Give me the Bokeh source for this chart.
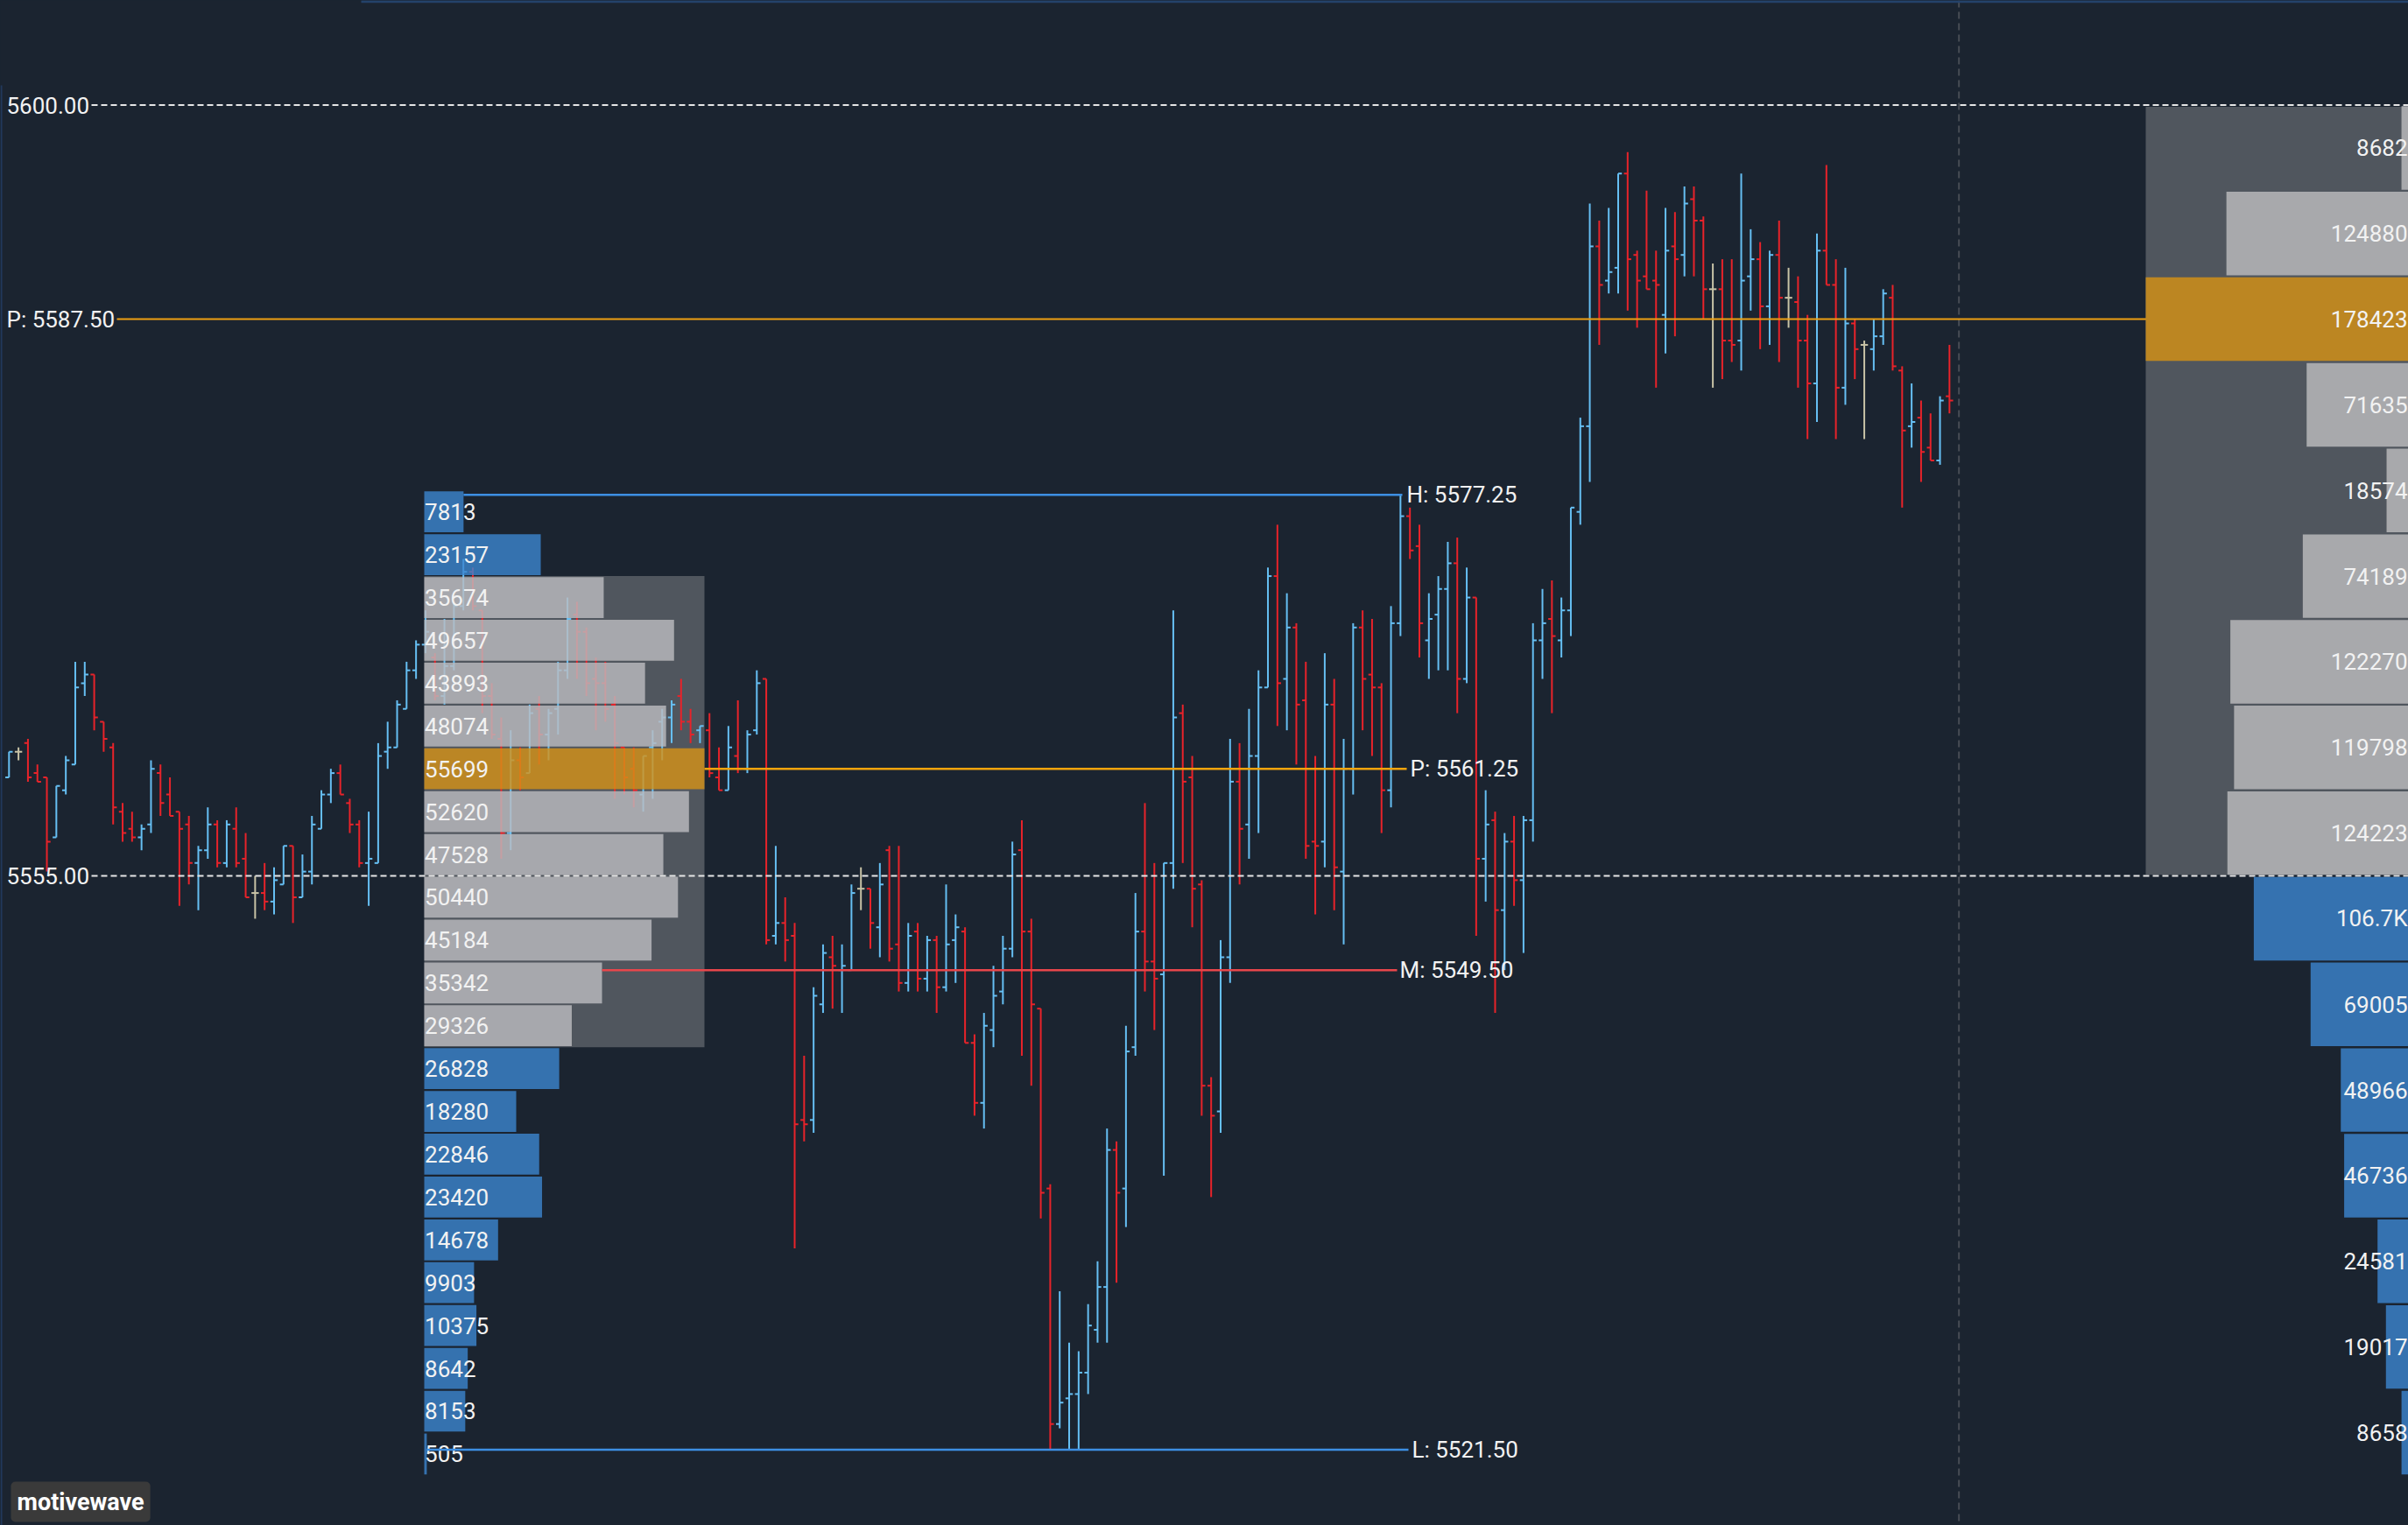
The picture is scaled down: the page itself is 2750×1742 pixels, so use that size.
from bokeh.plotting import figure
from bokeh.models import Range1d, Span, Label, ColumnDataSource
from bokeh.embed import file_html
from bokeh.resources import INLINE
from bokeh.core.properties import value

# ---------------- data ----------------
opens = [5560.75, 5562.25, 5562.75, 5561.0, 5560.75, 5557.25, 5560.0, 5561.5, 5566.25, 5566.75,
         5564.0, 5562.5, 5558.75, 5557.75, 5557.25, 5558.0, 5561.0, 5559.75, 5558.75, 5558.0,
         5555.75, 5556.5, 5558.0, 5555.75, 5557.75, 5556.0, 5554.0, 5554.0, 5553.5, 5554.5,
         5556.75, 5553.75, 5555.25, 5557.75, 5559.75, 5561.0, 5559.25, 5558.0, 5555.75, 5555.75,
         5562.25, 5562.5, 5564.75, 5567.0, 5568.5, 5567.75, 5565.5, 5567.25, 5570.75, 5572.75,
         5570.5, 5565.5, 5563.0, 5557.5, 5561.75, 5561.0, 5564.75, 5563.25, 5564.75, 5567.0,
         5570.25, 5569.25, 5566.5, 5566.25, 5565.0, 5562.5, 5561.25, 5559.75, 5562.5, 5564.0,
         5564.25, 5565.5, 5564.0, 5563.5, 5563.5, 5560.75, 5560.0, 5562.0, 5561.25, 5563.5,
         5566.5, 5551.5, 5552.25, 5551.5, 5540.75, 5540.75, 5547.5, 5550.25, 5549.5, 5549.5,
         5554.25, 5554.25, 5552.0, 5556.5, 5551.0, 5548.75, 5551.75, 5549.0, 5551.25, 5548.5,
         5551.25, 5551.75, 5545.25, 5541.75, 5546.0, 5548.25, 5550.75, 5556.5, 5551.75, 5547.25,
         5536.75, 5523.0, 5524.5, 5524.75, 5526.0, 5528.5, 5531.0, 5539.0, 5536.75, 5545.0,
         5551.75, 5550.0, 5549.25, 5555.75, 5564.5, 5560.75, 5554.5, 5542.75, 5541.25, 5550.25,
         5560.5, 5558.0, 5562.0, 5566.0, 5572.5, 5566.5, 5569.5, 5565.25, 5557.0, 5557.0,
         5565.0, 5555.25, 5561.25, 5569.5, 5566.75, 5566.0, 5560.0, 5569.75, 5576.0, 5574.25,
         5568.75, 5570.25, 5571.75, 5573.25, 5566.5, 5571.25, 5556.0, 5558.25, 5553.0, 5557.0,
         5554.75, 5558.25, 5568.75, 5570.0, 5568.75, 5570.5, 5576.25, 5581.25, 5591.75, 5589.75,
         5590.5, 5596.0, 5591.25, 5590.0, 5589.75, 5587.75, 5591.75, 5591.25, 5594.5, 5593.25,
         5589.25, 5589.25, 5586.25, 5586.25, 5590.0, 5591.0, 5588.25, 5591.25, 5588.75, 5588.5,
         5586.25, 5583.75, 5591.5, 5589.5, 5583.5, 5587.25, 5586.0, 5585.75, 5586.5, 5588.75,
         5584.5, 5581.25, 5581.75, 5580.0, 5579.25, 5583.0]

highs = [5562.25, 5562.5, 5563.0, 5561.5, 5560.75, 5560.25, 5562.0, 5567.5, 5567.5, 5566.75,
         5564.0, 5562.75, 5559.25, 5558.75, 5558.0, 5561.75, 5561.5, 5560.75, 5558.75, 5558.5,
         5556.75, 5559.0, 5558.25, 5558.25, 5559.0, 5557.5, 5555.0, 5555.75, 5555.5, 5556.75,
         5556.75, 5556.25, 5558.5, 5560.0, 5561.25, 5561.5, 5559.5, 5558.25, 5558.75, 5562.75,
         5564.0, 5565.25, 5567.5, 5568.75, 5570.5, 5568.0, 5570.0, 5571.0, 5573.5, 5573.0,
         5570.5, 5566.25, 5564.25, 5563.5, 5562.5, 5565.0, 5565.5, 5564.75, 5567.5, 5571.25,
         5571.0, 5569.5, 5567.75, 5567.5, 5565.5, 5562.5, 5562.5, 5562.0, 5563.5, 5564.75,
         5565.25, 5566.5, 5564.75, 5563.75, 5564.5, 5562.5, 5563.75, 5565.25, 5563.5, 5567.0,
         5566.5, 5556.75, 5553.75, 5552.25, 5544.5, 5548.5, 5551.0, 5551.5, 5551.0, 5554.5,
         5555.5, 5554.25, 5555.75, 5556.75, 5556.75, 5552.25, 5552.25, 5551.5, 5551.5, 5554.5,
         5552.75, 5552.0, 5545.75, 5547.0, 5549.75, 5551.5, 5557.0, 5558.25, 5552.5, 5547.25,
         5537.0, 5530.75, 5527.75, 5527.25, 5530.0, 5532.5, 5540.25, 5539.5, 5546.25, 5554.0,
         5559.25, 5555.75, 5555.75, 5570.5, 5565.0, 5562.0, 5554.75, 5543.25, 5551.25, 5563.0,
         5562.75, 5564.75, 5567.0, 5573.0, 5575.5, 5571.5, 5569.75, 5567.5, 5562.0, 5568.0,
         5566.5, 5563.0, 5569.75, 5570.5, 5570.0, 5566.25, 5570.75, 5577.25, 5576.5, 5575.5,
         5571.5, 5572.5, 5574.5, 5574.75, 5573.0, 5571.25, 5560.0, 5558.75, 5557.5, 5558.5,
         5558.5, 5569.75, 5571.75, 5572.25, 5571.25, 5576.5, 5581.75, 5594.25, 5593.25, 5594.0,
         5596.0, 5597.25, 5591.5, 5595.0, 5591.5, 5594.0, 5593.75, 5595.25, 5595.25, 5593.5,
         5590.75, 5591.0, 5591.0, 5596.0, 5592.75, 5592.0, 5591.5, 5593.25, 5590.5, 5590.0,
         5587.75, 5592.5, 5596.5, 5591.0, 5590.5, 5587.5, 5586.25, 5587.5, 5589.25, 5589.5,
         5584.75, 5583.75, 5582.75, 5582.0, 5583.0, 5586.0]

lows = [5560.75, 5561.75, 5560.5, 5560.5, 5555.25, 5557.25, 5559.75, 5561.5, 5565.5, 5563.5,
        5562.25, 5558.0, 5557.0, 5557.0, 5556.5, 5557.5, 5558.5, 5558.5, 5553.25, 5554.5,
        5553.0, 5556.0, 5555.5, 5555.5, 5555.5, 5553.75, 5552.5, 5553.0, 5552.75, 5554.5,
        5552.25, 5553.75, 5554.5, 5557.75, 5559.25, 5559.75, 5557.5, 5555.5, 5553.25, 5555.75,
        5561.25, 5562.5, 5564.75, 5566.5, 5568.0, 5565.25, 5565.0, 5567.0, 5570.5, 5570.5,
        5564.5, 5563.0, 5556.0, 5556.5, 5560.0, 5561.0, 5561.5, 5561.75, 5563.25, 5566.5,
        5566.5, 5565.5, 5563.5, 5564.0, 5559.5, 5559.75, 5559.0, 5558.75, 5559.5, 5561.75,
        5562.75, 5563.5, 5562.75, 5562.75, 5560.75, 5560.0, 5560.0, 5561.0, 5561.0, 5563.25,
        5551.0, 5551.0, 5550.0, 5533.25, 5539.5, 5540.0, 5547.0, 5547.25, 5547.0, 5549.5,
        5553.0, 5550.75, 5550.25, 5550.0, 5548.25, 5548.25, 5548.25, 5548.25, 5547.0, 5548.25,
        5548.75, 5545.25, 5541.0, 5540.25, 5545.0, 5547.5, 5550.25, 5544.5, 5542.75, 5535.0,
        5521.5, 5522.75, 5521.5, 5521.5, 5524.75, 5527.75, 5527.75, 5531.25, 5534.5, 5544.5,
        5548.25, 5546.0, 5537.5, 5554.25, 5555.75, 5552.0, 5541.0, 5536.25, 5540.0, 5548.75,
        5554.5, 5556.0, 5557.5, 5566.0, 5563.75, 5563.5, 5561.5, 5556.0, 5552.75, 5555.5,
        5553.0, 5551.0, 5559.75, 5563.5, 5562.0, 5557.5, 5559.0, 5569.0, 5573.5, 5567.75,
        5566.5, 5567.0, 5567.0, 5564.5, 5566.25, 5551.5, 5553.5, 5547.0, 5549.5, 5553.25,
        5550.5, 5557.0, 5566.5, 5564.5, 5567.75, 5569.0, 5575.5, 5578.0, 5586.0, 5589.0,
        5589.0, 5588.0, 5587.0, 5589.25, 5583.5, 5585.5, 5586.5, 5590.0, 5590.0, 5587.5,
        5583.5, 5584.0, 5585.0, 5584.5, 5588.0, 5585.75, 5586.0, 5585.0, 5587.0, 5583.5,
        5580.5, 5581.5, 5589.5, 5580.5, 5582.5, 5584.0, 5580.5, 5584.5, 5586.0, 5584.5,
        5576.5, 5580.0, 5578.0, 5579.25, 5579.0, 5582.0]

closes = [5562.25, 5562.25, 5560.75, 5560.5, 5557.0, 5560.25, 5561.75, 5566.0, 5566.75, 5564.25,
          5563.0, 5559.0, 5557.5, 5557.25, 5557.75, 5561.25, 5559.25, 5558.5, 5557.75, 5555.75,
          5556.5, 5558.0, 5555.75, 5558.0, 5555.75, 5553.75, 5554.0, 5553.5, 5554.75, 5556.75,
          5553.75, 5555.25, 5558.0, 5559.75, 5561.0, 5559.75, 5558.0, 5555.75, 5556.0, 5562.0,
          5562.5, 5565.0, 5567.0, 5568.5, 5569.25, 5565.5, 5567.25, 5570.75, 5572.75, 5570.75,
          5565.5, 5563.25, 5557.5, 5561.75, 5560.75, 5564.5, 5563.25, 5564.5, 5567.0, 5570.0,
          5569.25, 5566.25, 5566.25, 5564.75, 5562.75, 5560.75, 5560.0, 5562.0, 5562.75, 5564.25,
          5565.0, 5564.0, 5563.25, 5563.75, 5561.0, 5560.0, 5562.5, 5561.25, 5563.25, 5566.25,
          5551.25, 5552.25, 5551.25, 5540.5, 5540.5, 5548.0, 5550.5, 5549.75, 5549.75, 5554.0,
          5554.25, 5552.25, 5554.5, 5550.75, 5548.75, 5551.5, 5549.0, 5551.25, 5548.5, 5551.0,
          5552.0, 5545.25, 5541.75, 5546.25, 5548.0, 5550.75, 5556.25, 5551.75, 5547.5, 5536.5,
          5523.0, 5524.25, 5524.75, 5526.0, 5528.75, 5531.0, 5539.0, 5536.5, 5544.75, 5551.75,
          5550.0, 5549.0, 5555.75, 5564.25, 5560.5, 5554.25, 5542.75, 5541.0, 5550.25, 5560.5,
          5557.75, 5562.0, 5566.0, 5572.5, 5566.25, 5569.5, 5565.0, 5556.75, 5556.75, 5565.0,
          5555.5, 5561.25, 5569.5, 5566.5, 5566.0, 5560.0, 5569.75, 5576.0, 5574.0, 5569.75,
          5570.0, 5571.75, 5573.25, 5566.5, 5571.25, 5556.0, 5558.0, 5553.0, 5557.0, 5554.75,
          5558.25, 5568.75, 5569.75, 5569.0, 5570.5, 5576.5, 5581.25, 5591.75, 5589.5, 5590.25,
          5596.0, 5591.0, 5589.75, 5589.25, 5589.5, 5591.5, 5591.0, 5594.25, 5593.25, 5589.25,
          5589.25, 5586.25, 5586.0, 5589.75, 5591.0, 5588.25, 5591.25, 5588.75, 5588.75, 5586.25,
          5583.75, 5591.5, 5589.5, 5583.5, 5587.25, 5585.75, 5586.0, 5586.5, 5589.0, 5584.75,
          5581.0, 5581.5, 5579.75, 5579.25, 5582.75, 5582.75]

# session volume profile (left), rows of 2.5 points from the top
lp_top = 5577.5
lp_step = 2.5
lp_vol = [7813, 23157, 35674, 49657, 43893, 48074, 55699, 52620, 47528, 50440, 45184, 35342,
          29326, 26828, 18280, 22846, 23420, 14678, 9903, 10375, 8642, 8153, 505]
lp_va_rows = (2, 12)
lp_poc_row = 6

# composite volume profile (right), rows of 5 points from the top
rp_top = 5600.0
rp_step = 5.0
rp_vol = [8682, 124880, 178423, 71635, 18574, 74189, 122270, 119798, 124223, 106700, 69005,
          48966, 46736, 24581, 19017, 8658]
rp_labels = ["8682", "124880", "178423", "71635", "18574", "74189", "122270", "119798",
             "124223", "106.7K", "69005", "48966", "46736", "24581", "19017", "8658"]
rp_va_rows = (0, 8)
rp_poc_row = 2

# session levels
lvl_names = ["H", "P", "M", "L"]
lvl_values = [5577.25, 5561.25, 5549.50, 5521.50]
ref_levels = [5600.00, 5555.00]
composite_poc = 5587.50
brand = "motivewave"

# ---------------- geometry / styles ----------------
W, H = 2750, 1742
BAR0_PX, BAR_DX = 9.8, 10.81          # page x of bar 0, spacing in px
P5600_PX, PX_PER_PT = 119.5, 19.567   # page y of 5600, px per point


def bx(page_x):
    return (page_x - BAR0_PX) / BAR_DX


x0 = bx(0)
x1 = x0 + W / BAR_DX
y1 = 5600 + P5600_PX / PX_PER_PT
y0 = y1 - H / PX_PER_PT

BG = "#1b2430"
UP, DOWN, FLAT = "#66bff3", "#e8232a", "#c8c3a6"
VA_BG = "#50565e"
PROF_GRAY, PROF_BLUE, PROF_POC = "#bdbdc0", "#3c86cf", "#d69216"
TXT = "#f2f2f2"
FONT = "Roboto"

p = figure(width=W, height=H, output_backend="svg", toolbar_location=None,
           x_range=Range1d(x0, x1), y_range=Range1d(y0, y1),
           background_fill_color=BG, border_fill_color=BG, min_border=0)
p.outline_line_color = None
p.axis.visible = False
p.grid.visible = False

try:
    from bokeh.models import GlobalInlineStyleSheet
    p.stylesheets = [GlobalInlineStyleSheet(
        css="html, body { background-color: #1b2430; margin: 0; padding: 0; overflow: hidden; }")]
except Exception:
    pass

n = min(len(opens), len(highs), len(lows), len(closes))
xs = list(range(n))

# window chrome: top and left border lines
p.segment(x0=[bx(412)], y0=[y1 - 1.2 / PX_PER_PT], x1=[x1 + 1], y1=[y1 - 1.2 / PX_PER_PT],
          line_color="#24426a", line_width=3)
p.segment(x0=[bx(1)], y0=[y1 - 97 / PX_PER_PT], x1=[bx(1)], y1=[y0 - 1],
          line_color="#22395c", line_width=2)

# current-bar vertical dashed marker
p.add_layout(Span(location=n, dimension="height", line_color="#474c54", line_width=2,
                  line_dash="8 5", level="underlay"))

# ---- left profile value-area background
LP_X = bx(484)
LP_W = 320 / BAR_DX
lp_max = max(lp_vol)
va_top = lp_top - lp_step * lp_va_rows[0]
va_bot = lp_top - lp_step * (lp_va_rows[1] + 1)
p.quad(left=[LP_X], right=[LP_X + LP_W], bottom=[va_bot], top=[va_top],
       fill_color=VA_BG, line_color=None)

# ---- OHLC bars
cols = [UP if c > o else (DOWN if c < o else FLAT) for o, c in zip(opens[:n], closes[:n])]
tick = 4.2 / BAR_DX
src = ColumnDataSource(dict(x=xs, o=opens[:n], h=highs[:n], l=lows[:n], c=closes[:n],
                            xl=[x - tick for x in xs], xr=[x + tick for x in xs], col=cols))
p.segment(x0="x", y0="l", x1="x", y1="h", line_color="col", line_width=2, source=src)
p.segment(x0="xl", y0="o", x1="x", y1="o", line_color="col", line_width=2, source=src)
p.segment(x0="x", y0="c", x1="xr", y1="c", line_color="col", line_width=2, source=src)

# ---- left profile bars
gap = 1.1 / PX_PER_PT
lp_tops = [lp_top - lp_step * k for k in range(len(lp_vol))]
lp_cols = []
for k in range(len(lp_vol)):
    if k == lp_poc_row:
        lp_cols.append(PROF_POC)
    elif lp_va_rows[0] <= k <= lp_va_rows[1]:
        lp_cols.append(PROF_GRAY)
    else:
        lp_cols.append(PROF_BLUE)
p.quad(left=[LP_X] * len(lp_vol), right=[LP_X + v / lp_max * LP_W for v in lp_vol],
       top=[t - gap for t in lp_tops], bottom=[t - lp_step + gap for t in lp_tops],
       fill_color=lp_cols, fill_alpha=0.8, line_color=None)
p.text(x=[LP_X + 0.05] * len(lp_vol), y=[t - lp_step / 2 for t in lp_tops],
       text=[str(v) for v in lp_vol], text_font=value(FONT), text_font_size="26px",
       text_color=TXT, text_align="left", text_baseline="middle")


def lp_row_right(price):
    k = int((lp_top - price) / lp_step)
    k = max(0, min(len(lp_vol) - 1, k))
    return LP_X + lp_vol[k] / lp_max * LP_W


# ---- session levels H / P / M / L
lvl_colors = ["#3d8fe3", "#f4a30c", "#e8464b", "#3d8fe3"]
lvl_end_px = [1601, 1606, 1595, 1608]
lvl_lbl_px = [1606, 1610, 1598, 1612]
for name, v, colr, e_px, t_px in zip(lvl_names, lvl_values, lvl_colors, lvl_end_px, lvl_lbl_px):
    p.segment(x0=[lp_row_right(v)], y0=[v], x1=[bx(e_px)], y1=[v], line_color=colr, line_width=2.5)
    p.text(x=[bx(t_px)], y=[v], text=[f"{name}: {v:.2f}"], text_font=value(FONT),
           text_font_size="26px", text_color=TXT, text_align="left", text_baseline="middle")

# ---- right profile value-area background
RP_R = bx(2757)
RP_W = 307 / BAR_DX
rp_max = max(rp_vol)
rva_top = rp_top - rp_step * rp_va_rows[0]
rva_bot = rp_top - rp_step * (rp_va_rows[1] + 1)
p.quad(left=[bx(2450)], right=[x1 + 1], bottom=[rva_bot + 0.06], top=[rva_top - 0.1],
       fill_color=VA_BG, line_color=None)

# ---- reference dashed levels and composite POC line
for v in ref_levels:
    p.segment(x0=[bx(104)], y0=[v], x1=[x1 + 1], y1=[v], line_color="#e6e6e6",
              line_width=2, line_dash="7 4")
    p.text(x=[bx(7)], y=[v], text=[f"{v:.2f}"], text_font=value(FONT), text_font_size="26px",
           text_color=TXT, text_align="left", text_baseline="middle")
p.segment(x0=[bx(133)], y0=[composite_poc], x1=[bx(2451)], y1=[composite_poc],
          line_color="#ee9f12", line_width=2)
p.text(x=[bx(7)], y=[composite_poc], text=[f"P: {composite_poc:.2f}"], text_font=value(FONT),
       text_font_size="26px", text_color=TXT, text_align="left", text_baseline="middle")

# ---- right profile bars
rgap = 1.2 / PX_PER_PT
rp_tops = [rp_top - rp_step * k for k in range(len(rp_vol))]
rp_cols = []
for k in range(len(rp_vol)):
    if k == rp_poc_row:
        rp_cols.append("#bc8622")
    elif rp_va_rows[0] <= k <= rp_va_rows[1]:
        rp_cols.append("#a8a9ac")
    else:
        rp_cols.append("#3572b0")
p.quad(left=[RP_R - v / rp_max * RP_W for v in rp_vol], right=[RP_R] * len(rp_vol),
       top=[t - rgap for t in rp_tops], bottom=[t - rp_step + rgap for t in rp_tops],
       fill_color=rp_cols, line_color=None)
p.text(x=[bx(2749)] * len(rp_vol), y=[t - rp_step / 2 for t in rp_tops], text=rp_labels,
       text_font=value(FONT), text_font_size="26px", text_color=TXT,
       text_align="right", text_baseline="middle")

# ---- brand badge
p.add_layout(Label(x=12, y=27, x_units="screen", y_units="screen", text=brand,
                   text_font=FONT, text_font_size="27px", text_font_style="bold",
                   text_color="#ffffff", text_baseline="middle", text_align="left",
                   background_fill_color="#3a3a3a", padding=7, border_radius=5))

open("out.html", "w").write(file_html(p, INLINE))
